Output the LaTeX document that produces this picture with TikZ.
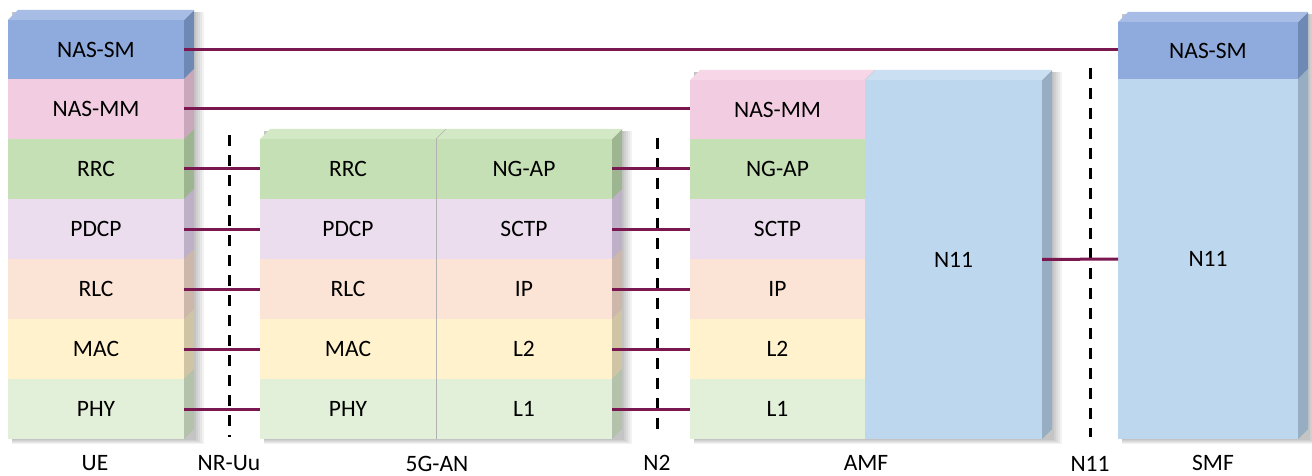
\documentclass[tikz,border=0pt]{standalone}
\usepackage{fontspec}
\setmainfont{Carlito}
\definecolor{linec}{HTML}{7A1650}
\definecolor{smF}{HTML}{8FAADC}\definecolor{smT}{HTML}{A8BDE6}\definecolor{smS}{HTML}{6F89B5}
\definecolor{mmF}{HTML}{F2CCE0}\definecolor{mmT}{HTML}{F6D6E7}\definecolor{mmS}{HTML}{C8A8BA}
\definecolor{rrcF}{HTML}{C5E0B4}\definecolor{rrcT}{HTML}{D3E9C6}\definecolor{rrcS}{HTML}{9DB590}
\definecolor{pdF}{HTML}{EBDDEE}\definecolor{pdS}{HTML}{BEB0C6}
\definecolor{rlF}{HTML}{FBE3D6}\definecolor{rlS}{HTML}{CDB7AA}
\definecolor{maF}{HTML}{FFF2CC}\definecolor{maS}{HTML}{CFC4A4}
\definecolor{phF}{HTML}{E2F0D9}\definecolor{phS}{HTML}{B4C2AC}
\definecolor{nF}{HTML}{BDD7EE}\definecolor{nT}{HTML}{CADFF1}\definecolor{nS}{HTML}{97ADC1}
\tikzset{
  layer/.style={anchor=north west, inner sep=0pt, outer sep=0pt, font=\fontsize{23.5}{28}\selectfont, text=black},
  conn/.style={draw=linec, line width=3pt},
  sepline/.style={draw=black, line width=3pt, dash pattern=on 11pt off 9pt},
  lbl/.style={font=\fontsize{23.5}{28}\selectfont, text=black},
}
% name, x, y, w, h, front, side, text
\newcommand{\lay}[8]{%
  \node[layer, fill=#6, minimum width=#4, minimum height=#5] (#1) at (#2,#3) {#8};
  \fill[#7] (#1.north east) -- ++(10,-10) -- ([shift={(10,-10)}]#1.south east) -- (#1.south east) -- cycle;
}
\newcommand{\plainlay}[7]{%
  \node[layer, fill=#6, minimum width=#4, minimum height=#5] (#1) at (#2,#3) {#7};
}
\newcommand{\topf}[2]{%
  \fill[#2] (#1.north west) -- ++(10,-10) -- ([shift={(10,-10)}]#1.north east) -- (#1.north east) -- cycle;
}
\newcommand{\shad}[4]{%
  \foreach \o in {2,4,6,8,10} {\fill[black, opacity=0.05] (#1+4,#2) rectangle (#3+\o,#4+\o*0.5);}
}
\begin{document}
\begin{tikzpicture}[x=1pt,y=-1pt]
\useasboundingbox (0,0) rectangle (1312,476);
% shadows
\shad{8}{12}{194}{439}
\shad{260}{131}{622}{439}
\shad{690}{72}{1052}{439}
\shad{1118}{14}{1308}{439}
% UE
\lay{ue-sm}{8}{20}{176}{59}{smF}{smS}{NAS-SM}
\topf{ue-sm}{smT}
\lay{ue-mm}{8}{79}{176}{60}{mmF}{mmS}{NAS-MM}
\lay{ue-rrc}{8}{139}{176}{60}{rrcF}{rrcS}{RRC}
\lay{ue-pdcp}{8}{199}{176}{60}{pdF}{pdS}{PDCP}
\lay{ue-rlc}{8}{259}{176}{60}{rlF}{rlS}{RLC}
\lay{ue-mac}{8}{319}{176}{60}{maF}{maS}{MAC}
\lay{ue-phy}{8}{379}{176}{60}{phF}{phS}{PHY}
% 5G-AN
\plainlay{an-rrc}{260}{139}{176}{60}{rrcF}{RRC}
\plainlay{an-pdcp}{260}{199}{176}{60}{pdF}{PDCP}
\plainlay{an-rlc}{260}{259}{176}{60}{rlF}{RLC}
\plainlay{an-mac}{260}{319}{176}{60}{maF}{MAC}
\plainlay{an-phy}{260}{379}{176}{60}{phF}{PHY}
\lay{an-ngap}{436}{139}{176}{60}{rrcF}{rrcS}{NG-AP}
\lay{an-sctp}{436}{199}{176}{60}{pdF}{pdS}{SCTP}
\lay{an-ip}{436}{259}{176}{60}{rlF}{rlS}{IP}
\lay{an-l2}{436}{319}{176}{60}{maF}{maS}{L2}
\lay{an-l1}{436}{379}{176}{60}{phF}{phS}{L1}
\topf{an-rrc}{rrcT}
\topf{an-ngap}{rrcT}
\draw[black!30, line width=0.6pt] (an-rrc.north east) -- ++(10,-10);
\draw[black!30, line width=0.6pt] (an-rrc.north east) -- (an-phy.south east);
% AMF
\plainlay{amf-mm}{690}{80}{175}{59}{mmF}{NAS-MM}
\plainlay{amf-ngap}{690}{139}{175}{60}{rrcF}{NG-AP}
\plainlay{amf-sctp}{690}{199}{175}{60}{pdF}{SCTP}
\plainlay{amf-ip}{690}{259}{175}{60}{rlF}{IP}
\plainlay{amf-l2}{690}{319}{175}{60}{maF}{L2}
\plainlay{amf-l1}{690}{379}{175}{60}{phF}{L1}
\lay{amf-n11}{865}{80}{177}{359}{nF}{nS}{N11}
\topf{amf-mm}{mmT}
\topf{amf-n11}{nT}
\draw[black!18, line width=0.6pt] (amf-n11.north west) -- ++(10,-10);
% SMF
\lay{smf-sm}{1118}{22}{180}{57}{smF}{smS}{NAS-SM}
\topf{smf-sm}{smT}
\lay{smf-n11}{1118}{79}{180}{360}{nF}{nS}{N11}
% interface separators
\coordinate (uu-a) at (229,135); \coordinate (uu-b) at (229,437);
\coordinate (n2-a) at (657,138); \coordinate (n2-b) at (657,437);
\coordinate (n11-a) at (1090,68); \coordinate (n11-b) at (1090,437);
\draw[sepline] (uu-a) -- (uu-b);
\draw[sepline] (n2-a) -- (n2-b);
\draw[sepline] (n11-a) -- (n11-b);
% connectors
\draw[conn] (ue-sm.east) -- (ue-sm.east -| smf-sm.west);
\draw[conn] (ue-mm.east) -- (ue-mm.east -| amf-mm.west);
\draw[conn] (ue-rrc.east) -- (an-rrc.west);
\draw[conn] (ue-pdcp.east) -- (an-pdcp.west);
\draw[conn] (ue-rlc.east) -- (an-rlc.west);
\draw[conn] (ue-mac.east) -- (an-mac.west);
\draw[conn] (ue-phy.east) -- (an-phy.west);
\draw[conn] (an-ngap.east) -- (amf-ngap.west);
\draw[conn] (an-sctp.east) -- (amf-sctp.west);
\draw[conn] (an-ip.east) -- (amf-ip.west);
\draw[conn] (an-l2.east) -- (amf-l2.west);
\draw[conn] (an-l1.east) -- (amf-l1.west);
\draw[conn] (amf-n11.east) -- (smf-n11.west);
% labels
\node[lbl] (l-ue) at (95,463) {UE};
\node[lbl] (l-uu) at (229,463) {NR-Uu};
\node[lbl] (l-an) at (437,464) {5G-AN};
\node[lbl] (l-n2) at (657,463) {N2};
\node[lbl] (l-amf) at (866,463) {AMF};
\node[lbl] (l-n11) at (1090,464) {N11};
\node[lbl] (l-smf) at (1213,463) {SMF};
\end{tikzpicture}
\end{document}
